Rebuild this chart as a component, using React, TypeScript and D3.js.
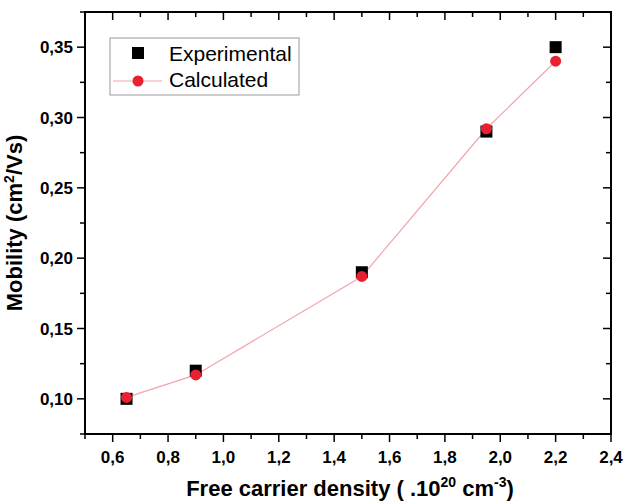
import React from "react";
import * as d3 from "d3";

const density = [0.65, 0.9, 1.5, 1.95, 2.2];
const experimental = [0.1, 0.12, 0.19, 0.29, 0.35];
const calculated = [0.101, 0.117, 0.187, 0.292, 0.34];
const xTicks = [0.6, 0.8, 1.0, 1.2, 1.4, 1.6, 1.8, 2.0, 2.2, 2.4];
const yTicks = [0.1, 0.15, 0.2, 0.25, 0.3, 0.35];
const seriesNames = ["Experimental", "Calculated"];

const W = 625, H = 504;
const L = 85, R = 611, T = 12, B = 434;

export default function App() {
  const x = d3.scaleLinear().domain([0.5, 2.4]).range([L, R]);
  const y = d3.scaleLinear().domain([0.075, 0.375]).range([B, T]);
  const xMinor = d3.range(5, 25).map((v) => v / 10).filter((v) => !xTicks.some((t) => Math.abs(t - v) < 1e-6));
  const yMinor = d3.range(0, 7).map((i) => 0.075 + i * 0.05);
  const line = d3.line<number>().x((d, i) => x(density[i])).y((d) => y(d));
  const font = "'Liberation Sans', Arial, sans-serif";
  const fmt = (v: number, d: number) => v.toFixed(d).replace(".", ",");
  return (
    <svg width={W} height={H} style={{ position: "absolute", left: 0, top: 0, background: "#fff" }} fontFamily={font}>
      <rect x={0} y={0} width={W} height={H} fill="#fff" />
      {xTicks.map((t) => (
        <g key={"xt" + t}>
          <line x1={x(t)} x2={x(t)} y1={B} y2={B + 8} stroke="#000" strokeWidth={1.5} />
          <line x1={x(t)} x2={x(t)} y1={T} y2={T + 8} stroke="#000" strokeWidth={1.5} />
          <text x={x(t)} y={B + 29} textAnchor="middle" fontSize={17} fontWeight="bold">{fmt(t, 1)}</text>
        </g>
      ))}
      {xMinor.map((t) => (
        <g key={"xm" + t}>
          <line x1={x(t)} x2={x(t)} y1={B} y2={B + 5} stroke="#000" strokeWidth={1.5} />
          <line x1={x(t)} x2={x(t)} y1={T} y2={T + 5} stroke="#000" strokeWidth={1.5} />
        </g>
      ))}
      {yTicks.map((t) => (
        <g key={"yt" + t}>
          <line x1={L - 8} x2={L} y1={y(t)} y2={y(t)} stroke="#000" strokeWidth={1.5} />
          <line x1={R - 8} x2={R} y1={y(t)} y2={y(t)} stroke="#000" strokeWidth={1.5} />
          <text x={L - 12} y={y(t) + 6} textAnchor="end" fontSize={17} fontWeight="bold">{fmt(t, 2)}</text>
        </g>
      ))}
      {yMinor.map((t) => (
        <g key={"ym" + t}>
          <line x1={L - 5} x2={L} y1={y(t)} y2={y(t)} stroke="#000" strokeWidth={1.5} />
          <line x1={R - 5} x2={R} y1={y(t)} y2={y(t)} stroke="#000" strokeWidth={1.5} />
        </g>
      ))}
      <rect x={L} y={T} width={R - L} height={B - T} fill="none" stroke="#000" strokeWidth={2} />
      <path d={line(calculated) || ""} fill="none" stroke="#f4a3aa" strokeWidth={1.2} />
      {experimental.map((v, i) => (
        <rect key={"e" + i} x={x(density[i]) - 6} y={y(v) - 6} width={12} height={12} fill="#000" />
      ))}
      {calculated.map((v, i) => (
        <circle key={"c" + i} cx={x(density[i])} cy={y(v)} r={5.5} fill="#e8202f" />
      ))}
      <rect x={110} y={38} width={189} height={57} fill="#fff" stroke="#999" strokeWidth={1} />
      <rect x={132} y={47} width={12} height={12} fill="#000" />
      <line x1={113} x2={162} y1={81} y2={81} stroke="#f4a3aa" strokeWidth={1.2} />
      <circle cx={138} cy={81} r={5.5} fill="#e8202f" />
      <text x={169} y={61} fontSize={21}>{seriesNames[0]}</text>
      <text x={169} y={87} fontSize={21}>{seriesNames[1]}</text>
      <text x={350} y={496} textAnchor="middle" fontSize={22} fontWeight="bold">
        Free carrier density ( .10<tspan dy={-9} fontSize={14}>20</tspan><tspan dy={9}> cm</tspan><tspan dy={-9} fontSize={14}>-3</tspan><tspan dy={9}>)</tspan>
      </text>
      <text transform={`translate(22, ${(T + B) / 2}) rotate(-90)`} textAnchor="middle" fontSize={22} fontWeight="bold">
        Mobility (cm<tspan dy={-8} fontSize={14}>2</tspan><tspan dy={8}>/Vs)</tspan>
      </text>
    </svg>
  );
}
